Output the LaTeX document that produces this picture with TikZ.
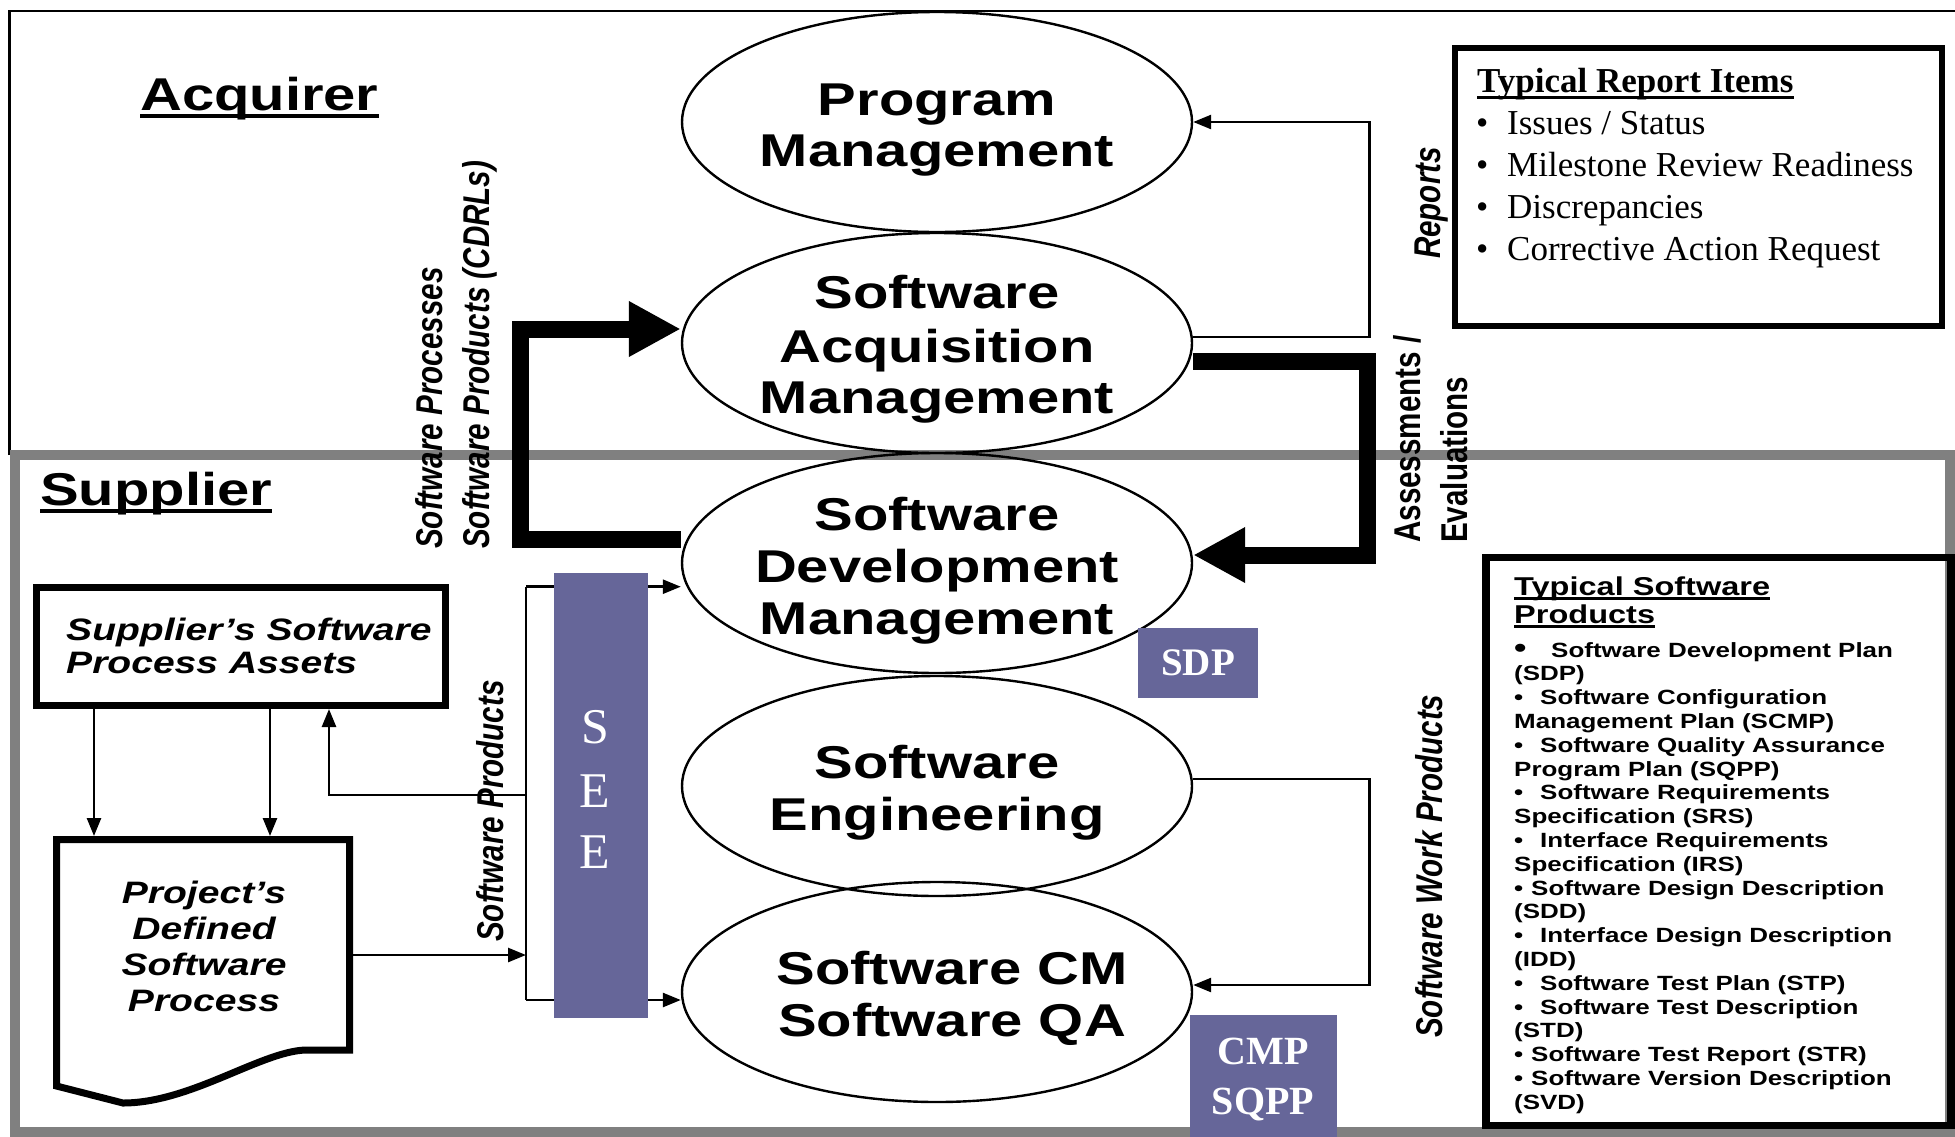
\documentclass[tikz,border=0pt]{standalone}
\usepackage{fontspec}
\usetikzlibrary{arrows.meta,shapes.geometric}
\newfontfamily\ArialW{Liberation Sans}[FakeStretch=1.26]
\newfontfamily\ArialN{Liberation Sans}
\newfontfamily\TimesR{Liberation Serif}
\newcommand\myfs[1]{\fontsize{#1pt}{#1pt}\selectfont}
\newcommand\vst[1]{\scalebox{1}[1.26]{#1}}
\definecolor{seeblue}{HTML}{666699}
\definecolor{framegrey}{HTML}{808080}
\begin{document}
\begin{tikzpicture}[x=1pt,y=-1pt,
  ellnode/.style={ellipse,draw,line width=2.4pt,minimum width=510pt,minimum height=220pt,inner sep=0pt},
  elltxt/.style={anchor=base,inner sep=0pt,font=\ArialW\bfseries\myfs{46}},
  thinln/.style={line width=2.6pt},
  thinarr/.style={line width=2.6pt,-{Triangle[length=18pt,width=14pt]}},
  thickarr/.style={line width=17pt,line join=miter,-{Triangle[length=52pt,width=52pt]}},
  pbox/.style={fill=seeblue,inner sep=0pt,text=white},
  whitetxt/.style={anchor=base,inner sep=0pt,text=white},
  vtxt/.style={rotate=90,inner sep=0pt,font=\ArialN\bfseries\itshape\myfs{29.6}},
  vtxtup/.style={rotate=90,inner sep=0pt,font=\ArialN\bfseries\myfs{29.6}},
  tspitem/.style={anchor=base west,inner sep=0pt,font=\ArialW\bfseries\myfs{20.6}},
  triitem/.style={anchor=base west,inner sep=0pt,font=\TimesR\myfs{35}},
  labeltxt/.style={anchor=base west,inner sep=0pt,font=\ArialW\bfseries\myfs{46}},
  boxtxt/.style={inner sep=0pt,font=\ArialW\bfseries\itshape\myfs{31}},
  bigbox/.style={draw,inner sep=0pt}
]
\path[use as bounding box,fill=white] (0,0) rectangle (1955,1136);
% frames
\draw[line width=2.5pt] (9.5,455) -- (9.5,11) -- (1965,11);
\draw[framegrey,line width=9.5pt] (15,455) rectangle (1950,1132);

% ellipses
\node[ellnode] (pm) at (937,122) {};
\node[ellnode] (sam) at (937,343) {};
\node[ellnode] (sdm) at (937,563) {};
\node[ellnode] (se) at (937,786) {};
\node[ellnode] (scm) at (937,992) {};

\node[elltxt] (pm1) at (937,115) {Program};
\node[elltxt] (pm2) at (937,166) {Management};
\node[elltxt] (sam1) at (937,308) {Software};
\node[elltxt] (sam2) at (937,362) {Acquisition};
\node[elltxt] (sam3) at (937,413) {Management};
\node[elltxt] (sdm1) at (937,530) {Software};
\node[elltxt] (sdm2) at (937,582) {Development};
\node[elltxt] (sdm3) at (937,634) {Management};
\node[elltxt] (se1) at (937,778) {Software};
\node[elltxt] (se2) at (937,830) {Engineering};
\node[elltxt] (scm1) at (952,984) {Software CM};
\node[elltxt] (scm2) at (952,1036) {Software QA};

% side labels
\node[labeltxt] (acq) at (140,110) {Acquirer};
\draw[line width=4.5pt] ([yshift=-6pt]acq.base west) -- ([yshift=-6pt]acq.base east);
\node[labeltxt] (sup) at (40,505) {Supplier};
\draw[line width=4.5pt] ([yshift=-6pt]sup.base west) -- ([yshift=-6pt]sup.base east);

% supplier's process assets
\node[bigbox,line width=7pt,minimum width=409pt,minimum height=118pt] (spa) at (241,646.5) {};
\node[boxtxt,anchor=base west] (spa1) at (66,640) {Supplier’s Software};
\node[boxtxt,anchor=base west] (spa2) at (66,673) {Process Assets};

% project's defined software process (document shape)
\node[minimum width=300pt,minimum height=218pt,inner sep=0pt,outer sep=0pt] (proj) at (203,945) {};
\draw[line width=7pt,line join=miter] (56.5,839.5) -- (349.5,839.5) -- (349.5,1050) -- (305,1050)
  .. controls (260,1052) and (190,1103) .. (123,1103) -- (56.5,1086) -- cycle;
\node[boxtxt,anchor=base] (proj1) at (204,903) {Project’s};
\node[boxtxt,anchor=base] (proj2) at (204,939) {Defined};
\node[boxtxt,anchor=base] (proj3) at (204,975) {Software};
\node[boxtxt,anchor=base] (proj4) at (204,1011) {Process};

% connectors acquirer side
\draw[thinarr] ([yshift=6pt]sam.east) -- ++(176,0) |- (pm.east);
\draw[thickarr] ([yshift=-18pt]sam.east) -- ++(174,0) |- ([yshift=8pt]sdm.east);
\draw[thickarr] ([yshift=23.5pt]sdm.west) -- ++(-160,0) |- ([yshift=14pt]sam.west);

% bus through SEE
\coordinate (bustop) at (526,586.7);
\coordinate (busbot) at (526,1000);
\coordinate (busin) at (526,955);
\coordinate (busout) at (526,795);
\draw[thinln] (bustop) -- (busbot);
\draw[thinarr] (bustop) -- ([yshift=-23.7pt]sdm.west);
\draw[thinarr] (busbot) -- ([yshift=-8pt]scm.west);
\draw[thinarr] ([yshift=-10pt]proj.east) -- (busin);
\draw[thinarr] (busout) -| ([xshift=88pt]spa.south);
\coordinate (d1) at ([xshift=-147pt]spa.south);
\coordinate (d2) at ([xshift=29pt]spa.south);
\draw[thinarr] (d1) -- (d1 |- proj.north);
\draw[thinarr] (d2) -- (d2 |- proj.north);

% software work products connector
\draw[thinarr] ([yshift=7pt]se.east) -- ++(176,0) |- ([yshift=7pt]scm.east);

% SEE box
\node[fill=seeblue,minimum width=94pt,minimum height=445pt,inner sep=0pt] (see) at (601,795.5) {};
\node[whitetxt,font=\TimesR\myfs{50}] (seeS) at (595,743) {S};
\node[whitetxt,font=\TimesR\myfs{50}] (seeE1) at (595,807) {E};
\node[whitetxt,font=\TimesR\myfs{50}] (seeE2) at (595,868) {E};

% SDP and CMP boxes
\node[pbox,minimum width=120pt,minimum height=70pt,font=\TimesR\bfseries\myfs{39}] (sdp) at (1198,663) {SDP};
\node[pbox,minimum width=147pt,minimum height=125pt] (cmp) at (1263.5,1077.5) {};
\node[whitetxt,font=\TimesR\bfseries\myfs{40}] (cmp1) at (1263,1064) {CMP};
\node[whitetxt,font=\TimesR\bfseries\myfs{40}] (cmp2) at (1263,1114) {SQPP};

% vertical labels
\node[vtxt,anchor=base west] (vproc) at (442,549) {\vst{Software Processes}};
\node[vtxt,anchor=base west] (vprod) at (489,549) {\vst{Software Products (CDRLs)}};
\node[vtxt,anchor=base] (vrep) at (1440,203) {\vst{Reports}};
\node[vtxtup,anchor=base west] (vass) at (1420,543) {\vst{Assessments /}};
\node[vtxtup,anchor=base west] (veval) at (1467,543) {\vst{Evaluations}};
\node[vtxt,anchor=base west] (vsp) at (503,942) {\vst{Software Products}};
\node[vtxt,anchor=base west] (vswp) at (1442,1038) {\vst{Software Work Products}};

% Typical report items
\node[bigbox,line width=6.3pt,minimum width=487pt,minimum height=278pt] (trib) at (1698.5,187) {};
\node[anchor=base west,inner sep=0pt,font=\TimesR\bfseries\myfs{35}] (trit) at (1477,92) {Typical Report Items};
\draw[line width=2.5pt] ([yshift=-5.5pt]trit.base west) -- ([yshift=-5.5pt]trit.base east);
\node[triitem] (tri1) at (1476,134) {\makebox[31pt][l]{•}Issues / Status};
\node[triitem] (tri2) at (1476,176) {\makebox[31pt][l]{•}Milestone Review Readiness};
\node[triitem] (tri3) at (1476,218) {\makebox[31pt][l]{•}Discrepancies};
\node[triitem] (tri4) at (1476,260) {\makebox[31pt][l]{•}Corrective Action Request};

% Typical software products
\node[bigbox,line width=7.5pt,minimum width=465pt,minimum height=568pt] (tspb) at (1718.5,841.5) {};
\node[anchor=base west,inner sep=0pt,font=\ArialW\bfseries\myfs{25.8}] (tspt1) at (1514,595) {Typical Software};
\draw[line width=2.2pt] ([yshift=-3.5pt]tspt1.base west) -- ([yshift=-3.5pt]tspt1.base east);
\node[anchor=base west,inner sep=0pt,font=\ArialW\bfseries\myfs{25.8}] (tspt2) at (1514,623) {Products};
\draw[line width=2.2pt] ([yshift=-3.5pt]tspt2.base west) -- ([yshift=-3.5pt]tspt2.base east);
\node[tspitem] (i1) at (1514,657) {\makebox[37pt][l]{\myfs{28}•}Software Development Plan};
\node[tspitem] (i2) at (1514,680.8) {(SDP)};
\node[tspitem] (i3) at (1514,704.6) {\makebox[26pt][l]{•}Software Configuration};
\node[tspitem] (i4) at (1514,728.4) {Management Plan (SCMP)};
\node[tspitem] (i5) at (1514,752.2) {\makebox[26pt][l]{•}Software Quality Assurance};
\node[tspitem] (i6) at (1514,776) {Program Plan (SQPP)};
\node[tspitem] (i7) at (1514,799.8) {\makebox[26pt][l]{•}Software Requirements};
\node[tspitem] (i8) at (1514,823.6) {Specification (SRS)};
\node[tspitem] (i9) at (1514,847.4) {\makebox[26pt][l]{•}Interface Requirements};
\node[tspitem] (i10) at (1514,871.2) {Specification (IRS)};
\node[tspitem] (i11) at (1514,895) {\makebox[17pt][l]{•}Software Design Description};
\node[tspitem] (i12) at (1514,918.8) {(SDD)};
\node[tspitem] (i13) at (1514,942.6) {\makebox[26pt][l]{•}Interface Design Description};
\node[tspitem] (i14) at (1514,966.4) {(IDD)};
\node[tspitem] (i15) at (1514,990.2) {\makebox[26pt][l]{•}Software Test Plan (STP)};
\node[tspitem] (i16) at (1514,1014) {\makebox[26pt][l]{•}Software Test Description};
\node[tspitem] (i17) at (1514,1037.8) {(STD)};
\node[tspitem] (i18) at (1514,1061.6) {\makebox[17pt][l]{•}Software Test Report (STR)};
\node[tspitem] (i19) at (1514,1085.4) {\makebox[17pt][l]{•}Software Version Description};
\node[tspitem] (i20) at (1514,1109.2) {(SVD)};
\end{tikzpicture}
\end{document}
